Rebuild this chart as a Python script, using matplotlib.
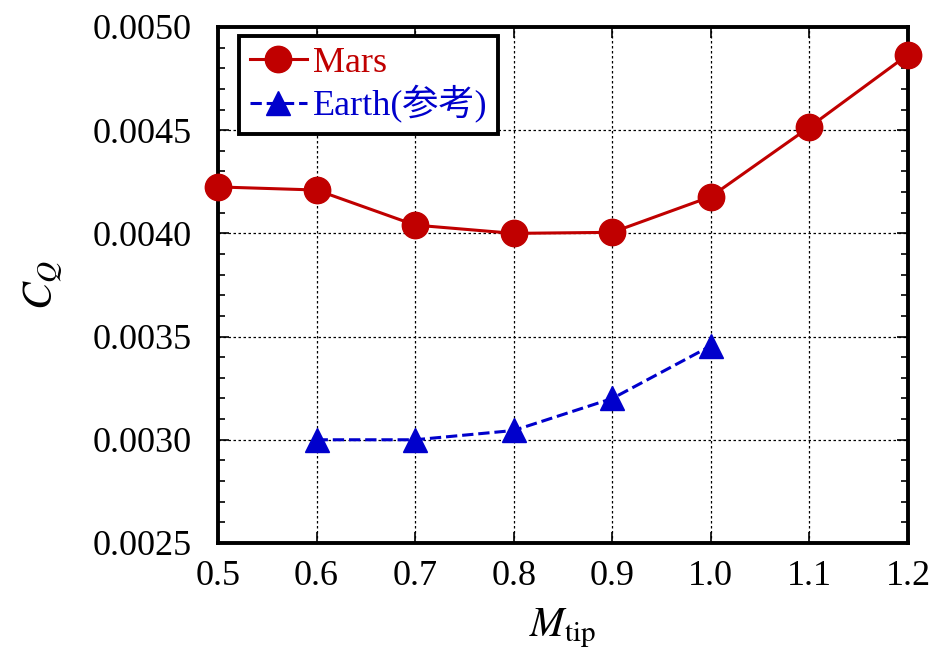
import numpy as np
import matplotlib
matplotlib.use('Agg')
import matplotlib.pyplot as plt
from matplotlib.ticker import MultipleLocator, FormatStrFormatter

plt.rcParams['font.family'] = ['Liberation Serif', 'Noto Sans CJK JP']
plt.rcParams['mathtext.fontset'] = 'stix'

# data
m_mars = [0.5, 0.6, 0.7, 0.8, 0.9, 1.0, 1.1, 1.2]
cq_mars = [0.004225, 0.00421, 0.00404, 0.00400, 0.004005, 0.004178, 0.004515, 0.004866]
m_earth = [0.6, 0.7, 0.8, 0.9, 1.0]
cq_earth = [0.00300, 0.00300, 0.003045, 0.00320, 0.003455]

fig = plt.figure(figsize=(9.35, 6.53), dpi=100)
ax = fig.add_axes([0.2332, 0.1685, 0.7379, 0.7902])

ax.plot(m_mars, cq_mars, '-o', color='#c00000', lw=2.2, ms=19,
        label='Mars', clip_on=False, zorder=5)
ax.plot(m_earth, cq_earth, '--^', color='#0000cc', lw=2.2, ms=17,
        label='Earth(参考)', clip_on=False, zorder=5)

ax.set_xlim(0.5, 1.2)
ax.set_ylim(0.0025, 0.0050)
ax.xaxis.set_major_locator(MultipleLocator(0.1))
ax.yaxis.set_major_locator(MultipleLocator(0.0005))
ax.yaxis.set_minor_locator(MultipleLocator(0.0001))
ax.yaxis.set_major_formatter(FormatStrFormatter('%.4f'))
ax.xaxis.set_major_formatter(FormatStrFormatter('%.1f'))

ax.grid(True, which='major', color='black', ls=(0, (2, 2)), lw=0.9)
ax.tick_params(which='both', direction='in', top=True, right=True,
               labelsize=26, width=1.2)
ax.tick_params(which='major', length=8)
ax.tick_params(axis='y', which='major', pad=19)
ax.tick_params(axis='x', which='major', pad=12)
ax.tick_params(which='minor', length=5)
for s in ax.spines.values():
    s.set_linewidth(2.8)

ax.set_xlabel(r'$M_{\mathrm{tip}}$', fontsize=30, labelpad=10)
ax.set_ylabel(r'$C_Q$', fontsize=30, labelpad=20)

leg = ax.legend(loc='upper left', bbox_to_anchor=(0.03, 0.983), fontsize=26,
                fancybox=False, framealpha=1, edgecolor='black',
                handlelength=1.6, handletextpad=0.15, borderpad=0.3,
                labelspacing=0.15, borderaxespad=0)
leg.get_frame().set_linewidth(2.8)
for t, c in zip(leg.get_texts(), ['#c00000', '#0000cc']):
    t.set_color(c)

fig.savefig('out.png', dpi=100)
